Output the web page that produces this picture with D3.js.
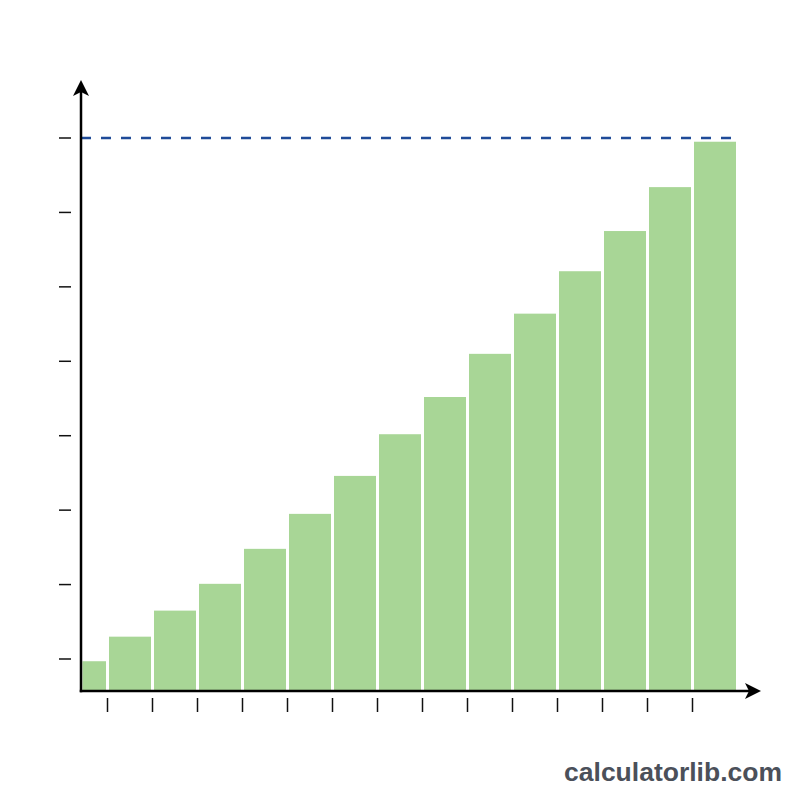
<!DOCTYPE html>
<html>
<head>
<meta charset="utf-8">
<script src="https://cdn.jsdelivr.net/npm/d3@7"></script>
<style>
  html, body { margin: 0; padding: 0; background: #fff; }
  svg { display: block; }
</style>
</head>
<body>
<svg id="chart" width="800" height="800"></svg>
<script>
// ---- data ----
const categories = ["1","2","3","4","5","6","7","8","9","10","11","12","13","14","15"];
const values = [0.97, 1.30, 1.65, 2.01, 2.48, 2.95, 3.46, 4.02, 4.52, 5.10, 5.64, 6.21, 6.75, 7.34, 7.95];
const yTicks = [1, 2, 3, 4, 5, 6, 7, 8];
const targetValue = 8;
const watermark = "calculatorlib.com";

// ---- layout ----
const svg = d3.select("#chart");
const axisX = 81, axisY = 691;
const yMinValue = 0.57;

const x = d3.scaleBand()
  .domain(categories)
  .range([62.5, 737.5])
  .paddingInner(1 / 15)
  .paddingOuter(1 / 30);

const y = d3.scaleLinear()
  .domain([yMinValue, 8])
  .range([axisY, 138]);

svg.append("defs").append("clipPath").attr("id", "plotClip")
  .append("rect").attr("x", axisX + 1.5).attr("y", 0).attr("width", 800).attr("height", axisY);

// bars
svg.append("g").attr("clip-path", "url(#plotClip)")
  .selectAll("rect").data(values).join("rect")
  .attr("x", (d, i) => x(categories[i]))
  .attr("width", x.bandwidth())
  .attr("y", d => y(d))
  .attr("height", d => axisY - y(d))
  .attr("fill", "#a8d696");

// dashed target line
svg.append("line")
  .attr("x1", axisX).attr("x2", 737)
  .attr("y1", y(targetValue)).attr("y2", y(targetValue))
  .attr("stroke", "#1f4b99").attr("stroke-width", 2.5)
  .attr("stroke-dasharray", "10,10");

// y ticks
svg.append("g").selectAll("line").data(yTicks).join("line")
  .attr("x1", 59).attr("x2", 71)
  .attr("y1", d => y(d)).attr("y2", d => y(d))
  .attr("stroke", "#111").attr("stroke-width", 1.5);

// x ticks between bars
svg.append("g").selectAll("line").data(categories.slice(1)).join("line")
  .attr("x1", d => x(d) - x.step() * x.paddingInner() / 2)
  .attr("x2", d => x(d) - x.step() * x.paddingInner() / 2)
  .attr("y1", 698).attr("y2", 712)
  .attr("stroke", "#111").attr("stroke-width", 1.5);

// axes
svg.append("line").attr("x1", axisX).attr("x2", axisX).attr("y1", 92).attr("y2", axisY + 1.25)
  .attr("stroke", "#000").attr("stroke-width", 2.5);
svg.append("line").attr("x1", axisX - 1.25).attr("x2", 750).attr("y1", axisY).attr("y2", axisY)
  .attr("stroke", "#000").attr("stroke-width", 2.5);

// arrowheads
svg.append("path")
  .attr("d", `M${axisX},80 L${axisX + 8},96 L${axisX},92 L${axisX - 8},96 Z`)
  .attr("fill", "#000");
svg.append("path")
  .attr("d", `M761,${axisY} L745,${axisY - 8} L749,${axisY} L745,${axisY + 8} Z`)
  .attr("fill", "#000");

// watermark
svg.append("text")
  .attr("x", 782).attr("y", 781)
  .attr("text-anchor", "end")
  .attr("font-family", "'Liberation Sans', Arial, sans-serif")
  .attr("font-weight", "bold")
  .attr("font-size", 26.5)
  .attr("fill", "#4b505a")
  .text(watermark);
</script>
</body>
</html>
